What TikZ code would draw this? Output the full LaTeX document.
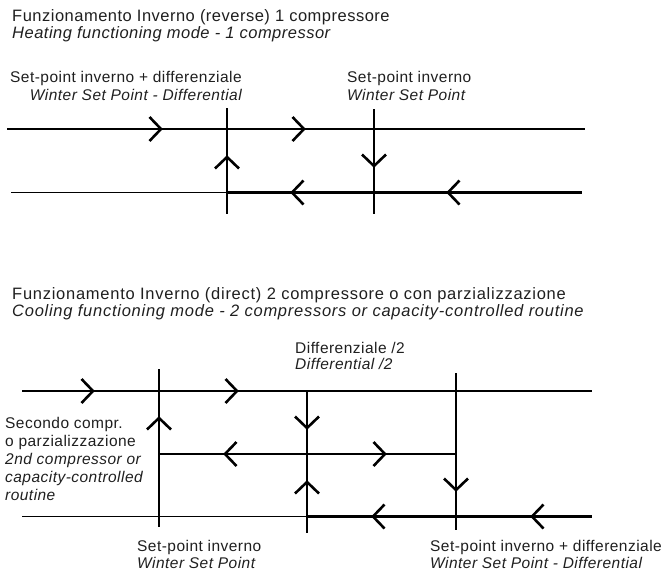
\documentclass[tikz,border=0pt]{standalone}
\usepackage{fontspec}
\setmainfont{Liberation Sans}[LetterSpace=3.0]
\begin{document}
\begin{tikzpicture}[x=1pt,y=-1pt,
  thk/.style={line width=2.8pt},
  thn/.style={line width=1.3pt},
  lbl/.style={inner sep=0pt, text=black!88, font=\fontsize{15.5}{17}\selectfont},
  lbli/.style={inner sep=0pt, text=black!88, font=\fontsize{15.5}{17}\selectfont\itshape},
  ttl/.style={inner sep=0pt, text=black!88, font=\fontsize{16.5}{18}\selectfont},
  ttli/.style={inner sep=0pt, text=black!88, font=\fontsize{16.5}{18}\selectfont\itshape},
  ttlw/.style={inner sep=0pt, text=black!88, font=\fontsize{16.5}{18}\selectfont\addfontfeature{LetterSpace=4.5}},
  ttlwi/.style={inner sep=0pt, text=black!88, font=\fontsize{16.5}{18}\selectfont\itshape\addfontfeature{LetterSpace=4.5}},
  chevr/.pic={\draw[line width=2.6pt] (-11.5,12) -- (0,0) -- (-11.5,-12);}
]
\useasboundingbox (0,0) rectangle (664,574);

% ---------- Panel 1 ----------
\node[ttl, anchor=base west] (t1a) at (12,21) {Funzionamento Inverno (reverse) 1 compressore};
\node[ttli, anchor=base west] (t1b) at (12,38) {Heating functioning mode - 1 compressor};
\node[lbl, anchor=base east] (l1a) at (242,82) {Set-point inverno + differenziale};
\node[lbli, anchor=base east] (l1b) at (242,100) {Winter Set Point - Differential};
\node[lbl, anchor=base west] (r1a) at (347,82) {Set-point inverno};
\node[lbli, anchor=base west] (r1b) at (347,100) {Winter Set Point};

\coordinate (p1tl) at (7,129);
\coordinate (p1b) at (374,129);
\coordinate (p1tr) at (585,129);
\coordinate (p1bl) at (11,192.5);
\coordinate (p1c) at (227,192.5);
\coordinate (p1br) at (582,192.5);
\coordinate (v1t) at (227,108);
\coordinate (v1b) at (227,214);
\coordinate (v2t) at (374,109);
\coordinate (v2b) at (374,214);

\draw[thk] (p1tl) -- (p1b);
\draw[thn] (p1b) -- (p1tr);
\draw[thn] (p1bl) -- (p1c);
\draw[thk] (p1c) -- (p1br);
\draw[thk] (v1t) -- (v1b);
\draw[thk] (v2t) -- (v2b);

\path (161,129) pic {chevr};
\path (304,129) pic {chevr};
\path (227,157) pic[rotate=90] {chevr};
\path (374,166) pic[rotate=-90] {chevr};
\path (292,192.5) pic[rotate=180] {chevr};
\path (448,192.5) pic[rotate=180] {chevr};

% ---------- Panel 2 ----------
\node[ttlw, anchor=base west] (t2a) at (12,299) {Funzionamento Inverno (direct) 2 compressore o con parzializzazione};
\node[ttlwi, anchor=base west] (t2b) at (12,316) {Cooling functioning mode - 2 compressors or capacity-controlled routine};
\node[lbl, anchor=base west] (d2a) at (295,353) {Differenziale /2};
\node[lbli, anchor=base west] (d2b) at (295,369) {Differential /2};

\node[lbl, anchor=base west] (s1) at (5,428) {Secondo compr.};
\node[lbl, anchor=base west] (s2) at (5,446) {o parzializzazione};
\node[lbli, anchor=base west] (s3) at (5,464) {2nd compressor or};
\node[lbli, anchor=base west] (s4) at (5,482) {capacity-controlled};
\node[lbli, anchor=base west] (s5) at (5,500) {routine};

\node[lbl, anchor=base west] (b1a) at (137,551) {Set-point inverno};
\node[lbli, anchor=base west] (b1b) at (137,568) {Winter Set Point};
\node[lbl, anchor=base west] (b2a) at (430,551) {Set-point inverno + differenziale};
\node[lbli, anchor=base west] (b2b) at (430,568) {Winter Set Point - Differential};

\coordinate (q1tl) at (22,391);
\coordinate (q1b) at (307,391);
\coordinate (q1tr) at (592,391);
\coordinate (qma) at (159,454);
\coordinate (qmc) at (456,454);
\coordinate (qbl) at (22,516.5);
\coordinate (qbb) at (307,516.5);
\coordinate (qbr) at (592,516.5);
\coordinate (vat) at (159,369);
\coordinate (vab) at (159,527);
\coordinate (vbt) at (307,391);
\coordinate (vbb) at (307,533);
\coordinate (vct) at (456,373);
\coordinate (vcb) at (456,530);

\draw[thk] (q1tl) -- (q1b);
\draw[thn] (q1b) -- (q1tr);
\draw[thk] (qma) -- (qmc);
\draw[thn] (qbl) -- (qbb);
\draw[thk] (qbb) -- (qbr);
\draw[thk] (vat) -- (vab);
\draw[thk] (vbt) -- (vbb);
\draw[thk] (vct) -- (vcb);

\path (93,391) pic {chevr};
\path (237,391) pic {chevr};
\path (225,454) pic[rotate=180] {chevr};
\path (385,454) pic {chevr};
\path (159,418) pic[rotate=90] {chevr};
\path (307,428) pic[rotate=-90] {chevr};
\path (307,482) pic[rotate=90] {chevr};
\path (456,490) pic[rotate=-90] {chevr};
\path (373,516.5) pic[rotate=180] {chevr};
\path (532,516.5) pic[rotate=180] {chevr};
\end{tikzpicture}
\end{document}
